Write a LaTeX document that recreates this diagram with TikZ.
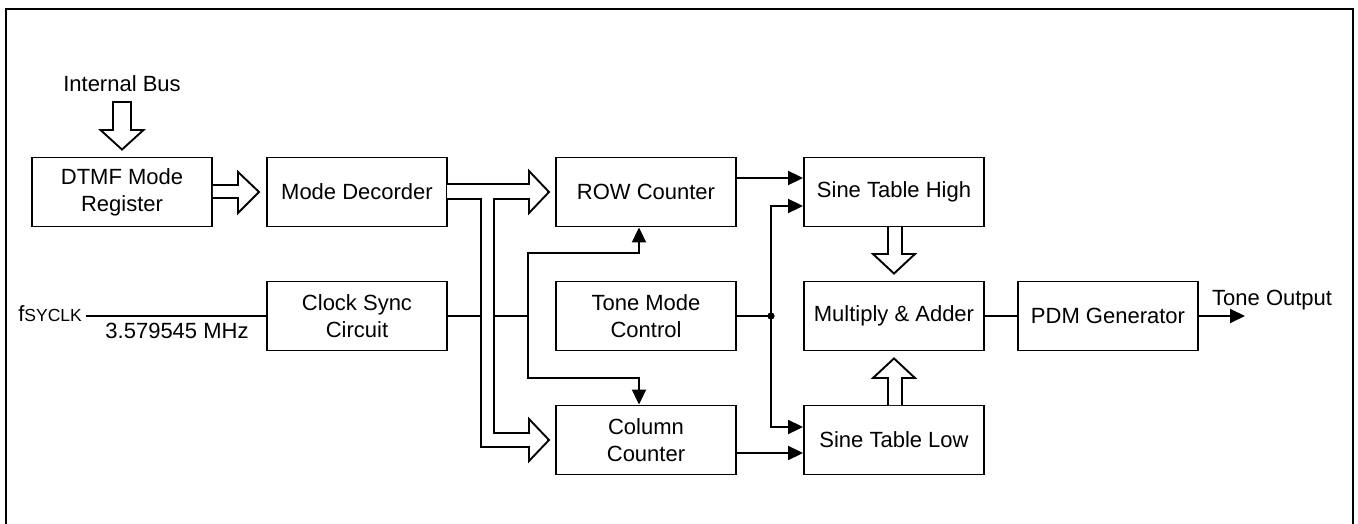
\documentclass[tikz,border=0pt]{standalone}
\usepackage{fontspec}
\setmainfont{Liberation Sans}
\usetikzlibrary{arrows.meta,calc}
\begin{document}
\begin{tikzpicture}[x=1pt,y=-1pt,
  box/.style={draw, line width=1.9pt, minimum width=180pt, minimum height=69pt, inner sep=0pt, align=center, fill=white, font=\fontsize{22}{27}\selectfont},
  lbl/.style={inner sep=0pt, font=\fontsize{22}{27}\selectfont},
  wire/.style={line width=1.9pt},
  sig/.style={line width=1.9pt, -{Triangle[length=15pt,width=14pt]}},
  hollow/.style={line width=1.9pt, fill=white, line join=miter}]
\useasboundingbox (0,0) rectangle (1358,524);
% frame
\draw[line width=2.8pt] (6,526) -- (6,9) -- (1353,9) -- (1353,526);

% blocks
\node[box] (dtmf) at (122,192) {DTMF Mode\\Register};
\node[box] (mdec) at (357,192) {Mode Decorder};
\node[box] (row)  at (646,192) {ROW Counter};
\node[box] (sth)  at (894,192) {Sine Table High};
\node[box] (clk)  at (357,316) {Clock Sync\\Circuit};
\node[box] (tmc)  at (646,316) {Tone Mode\\Control};
\node[box] (mul)  at (894,316) {Multiply \& Adder};
\node[box] (pdm)  at (1108,316) {PDM Generator};
\node[box] (col)  at (646,440) {Column\\Counter};
\node[box] (stl)  at (894,440) {Sine Table Low};

% labels
\node[lbl, anchor=base] (ib) at (122,92) {Internal Bus};
\node[lbl, anchor=base east] (fs) at (82,321) {f{\fontsize{17.5}{20}\selectfont SYCLK}};
\node[lbl, anchor=base] (mhz) at (177,338) {3.579545 MHz};
\node[lbl, anchor=base west] (to) at (1212,305) {Tone Output};
\coordinate (tout) at (1245,316);
\coordinate (fin) at (86,316);

% clock input
\draw[wire] (fin) -- (clk.west);

% clock distribution
\coordinate (cj) at (528,316);
\draw[wire] (clk.east) -- (cj);
\draw[sig] (cj) -- (528,253) -- (639,253) -- ($(row.south)+(-7,0)$);
\draw[sig] (cj) -- (528,378) -- (639,378) -- ($(col.north)+(-7,0)$);

% bus pipe from mode decoder
\draw[hollow] (447,184) -- (529,184) -- (529,171) -- (549,192) -- (529,213) -- (529,199)
  -- (494,199) -- (494,433) -- (529,433) -- (529,419) -- (549,440) -- (529,461) -- (529,447)
  -- (481,447) -- (481,199) -- (447,199);

% internal bus arrow
\draw[hollow] (113,102) -- (131,102) -- (131,130) -- (143.5,130) -- ($(dtmf.north)+(0,-7)$)
  -- (100.5,130) -- (113,130) -- cycle;
% DTMF -> mode decoder
\draw[hollow] ($(dtmf.east)+(0,-7)$) -- (238,185) -- (238,172) -- ($(mdec.west)+(-7,0)$)
  -- (238,213) -- (238,198) -- ($(dtmf.east)+(0,6)$);

% tone mode control to sine tables
\coordinate (tj) at (771,316);
\draw[wire] (tmc.east) -- (tj);
\fill (tj) circle (3.6pt);
\draw[sig] (tj) -- (771,206) -- ($(sth.west)+(0,14)$);
\draw[sig] (tj) -- (771,427) -- ($(stl.west)+(0,-13)$);

% counters to sine tables
\draw[sig] ($(row.east)+(0,-14)$) -- ($(sth.west)+(0,-14)$);
\draw[sig] ($(col.east)+(0,13)$) -- ($(stl.west)+(0,13)$);

% sine tables to multiplier (hollow)
\draw[hollow] (888,227) -- (888,254) -- (873,254) -- ($(mul.north)+(0,-7)$) -- (915,254)
  -- (902,254) -- (902,227);
\draw[hollow] (888,405) -- (888,378) -- (873,378) -- ($(mul.south)+(0,7)$) -- (915,378)
  -- (902,378) -- (902,405);

% multiplier -> PDM -> output
\draw[wire] (mul.east) -- (pdm.west);
\draw[sig] (pdm.east) -- (tout);
\end{tikzpicture}
\end{document}
